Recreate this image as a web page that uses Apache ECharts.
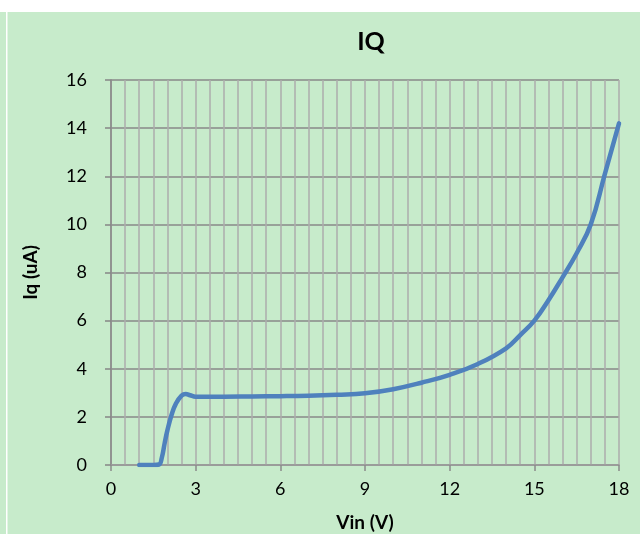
<!DOCTYPE html>
<html>
<head>
<meta charset="utf-8">
<script src="https://cdn.jsdelivr.net/npm/echarts@6/dist/echarts.min.js"></script>
<style>
html,body{margin:0;padding:0;background:#ffffff;}
#chart{position:absolute;left:0;top:12px;width:640px;height:522px;}
</style>
</head>
<body>
<div id="chart"></div>
<script>
const titleText = "IQ";
const xAxisTitle = "Vin (V)";
const yAxisTitle = "Iq (uA)";
const vin = [1, 1.5, 1.7, 1.8, 1.9, 2.0, 2.15, 2.3, 2.5, 2.65, 2.8, 3.0, 4, 5, 6, 7, 8, 9, 10, 11, 12, 13, 14, 14.5, 15, 15.5, 16, 16.5, 17, 17.5, 18];
const iq  = [0, 0, 0.02, 0.3, 0.9, 1.45, 2.1, 2.55, 2.88, 2.95, 2.9, 2.84, 2.84, 2.85, 2.86, 2.88, 2.92, 2.98, 3.15, 3.42, 3.75, 4.2, 4.85, 5.4, 6.0, 6.85, 7.8, 8.8, 10.0, 12.1, 14.2];

const seriesData = vin.map((v, i) => [v, iq[i]]);
const font = "Lato, 'Open Sans', sans-serif";
const chart = echarts.init(document.getElementById('chart'));
chart.setOption({
  backgroundColor: '#C7EBCB',
  animation: false,
  title: {
    text: titleText, left: 366, top: 12, textAlign: 'center',
    textStyle: {fontFamily: font, fontSize: 25, fontWeight: 'bold', color: '#000'}
  },
  grid: {left: 111, right: 21, top: 68, bottom: 69, outerBoundsMode: 'none', containLabel: false},
  graphic: [{type: 'rect', shape: {x: 6, y: 0, width: 1.5, height: 522}, style: {fill: '#ffffff'}, silent: true}],
  xAxis: {
    type: 'value', min: 0, max: 18, interval: 3,
    name: xAxisTitle, nameLocation: 'middle', nameGap: 48,
    nameTextStyle: {fontFamily: font, fontSize: 19, fontWeight: 'bold', color: '#000'},
    axisLine: {show: true, onZero: false, lineStyle: {color: '#9A9A9A', width: 1.5}},
    axisTick: {show: true, length: 6, lineStyle: {color: '#8A8A8A', width: 1.5}},
    minorTick: {show: false, splitNumber: 6},
    axisLabel: {fontFamily: font, fontSize: 18, color: '#000', margin: 15},
    splitLine: {show: true, lineStyle: {color: '#ADADAD', width: 1.5}},
    minorSplitLine: {show: true, lineStyle: {color: '#ADADAD', width: 1.5}}
  },
  yAxis: {
    type: 'value', min: 0, max: 16, interval: 2,
    name: yAxisTitle, nameLocation: 'middle', nameGap: 71, nameRotate: 90,
    nameTextStyle: {fontFamily: font, fontSize: 19, fontWeight: 'bold', color: '#000'},
    axisLine: {show: true, lineStyle: {color: '#868686', width: 1.5}},
    axisTick: {show: true, inside: false, length: 6, lineStyle: {color: '#868686', width: 1.5}},
    axisLabel: {fontFamily: font, fontSize: 18, color: '#000', margin: 24},
    splitLine: {show: true, lineStyle: {color: '#888888', width: 1.5}}
  },
  series: [{
    type: 'line', data: seriesData, showSymbol: false, symbol: 'none',
    smooth: 0.45,
    lineStyle: {color: '#4F81BD', width: 4.5, cap: 'round', join: 'round'}
  }]
});
</script>
</body>
</html>
